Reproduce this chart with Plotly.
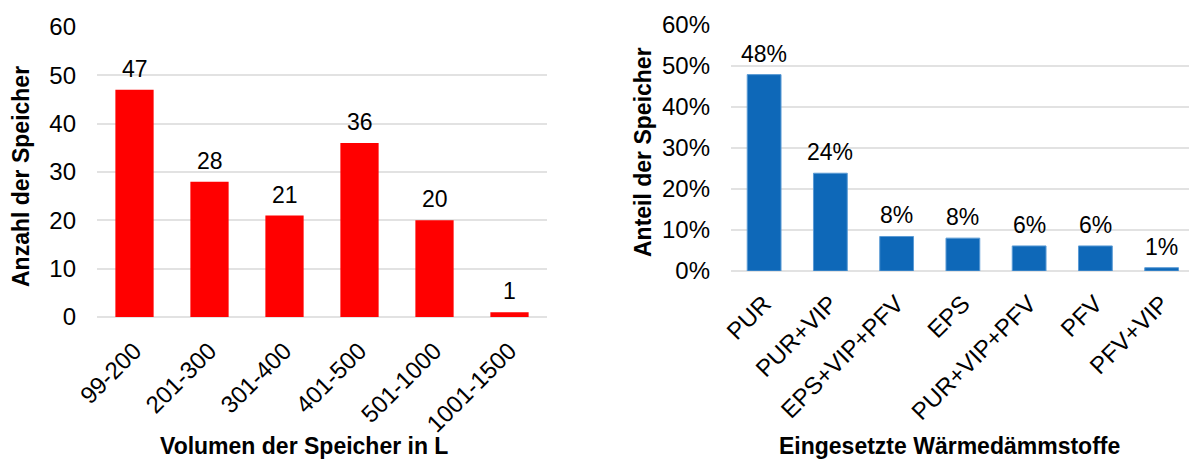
import plotly.graph_objects as go

# Storage volume classes and number of tanks per class
volume_classes = ["99-200", "201-300", "301-400", "401-500", "501-1000", "1001-1500"]
tank_counts = [47, 28, 21, 36, 20, 1]

# Insulation materials and share of tanks using them
insulation_types = ["PUR", "PUR+VIP", "EPS+VIP+PFV", "EPS", "PUR+VIP+PFV", "PFV", "PFV+VIP"]
insulation_shares = [0.478, 0.238, 0.084, 0.080, 0.061, 0.061, 0.008]

W, H = 1189, 459
FONT = "Liberation Sans, Arial, sans-serif"
RED = "#FF0000"
BLUE = "#0E68B8"
GRID = "#E2E2E2"


def px_x(x):
    return x / W


def px_y(y):
    return (H - y) / H


fig = go.Figure()

fig.add_trace(go.Bar(
    x=volume_classes, y=tank_counts, marker_color=RED,
    marker_line_width=0, xaxis="x", yaxis="y", showlegend=False,
))
fig.add_trace(go.Bar(
    x=insulation_types, y=insulation_shares, marker_color=BLUE,
    marker_line=dict(color="#5B9BD5", width=1), xaxis="x2", yaxis="y2",
    showlegend=False,
))

annotations = []
# value labels above the bars
for cat, val in zip(volume_classes, tank_counts):
    annotations.append(dict(
        x=cat, y=val, xref="x", yref="y", text=str(val), showarrow=False,
        yanchor="bottom", yshift=6, font=dict(size=23, color="#000000", family=FONT),
    ))
for cat, val in zip(insulation_types, insulation_shares):
    annotations.append(dict(
        x=cat, y=val, xref="x2", yref="y2", text=f"{val:.0%}", showarrow=False,
        yanchor="bottom", yshift=6, font=dict(size=23, color="#000000", family=FONT),
    ))

title_font = dict(size=23, color="#000000", family=FONT)
# axis titles
annotations += [
    dict(text="<b>Volumen der Speicher in L</b>", x=px_x(304), y=px_y(446),
         xref="paper", yref="paper", showarrow=False, xanchor="center",
         yanchor="middle", font=title_font),
    dict(text="<b>Anzahl der Speicher</b>", x=px_x(21), y=px_y(177),
         xref="paper", yref="paper", showarrow=False, textangle=-90,
         xanchor="center", yanchor="middle", font=title_font),
    dict(text="<b>Eingesetzte Wärmedämmstoffe</b>", x=px_x(949), y=px_y(446),
         xref="paper", yref="paper", showarrow=False, xanchor="center",
         yanchor="middle", font=title_font),
    dict(text="<b>Anteil der Speicher</b>", x=px_x(643), y=px_y(152),
         xref="paper", yref="paper", showarrow=False, textangle=-90,
         xanchor="center", yanchor="middle", font=title_font),
]

tick_font = dict(size=24, color="#000000", family=FONT)

fig.update_layout(
    width=W, height=H,
    margin=dict(l=0, r=0, t=0, b=0),
    paper_bgcolor="white", plot_bgcolor="white",
    font=dict(family=FONT, color="#000000"),
    bargap=0.49,
    annotations=annotations,
    xaxis=dict(
        domain=[px_x(97), px_x(547)], anchor="y", tickangle=-45,
        tickfont=tick_font, showgrid=False, showline=False, ticks="",
        ticklabelstandoff=14, automargin=False,
    ),
    yaxis=dict(
        domain=[px_y(317), px_y(27)], anchor="x", range=[0, 60], dtick=10,
        tickfont=tick_font, showgrid=True, gridcolor=GRID, gridwidth=1.5,
        zeroline=True, zerolinecolor=GRID, zerolinewidth=1.5,
        showline=False, ticks="", ticklabelstandoff=20, automargin=False,
    ),
    xaxis2=dict(
        domain=[px_x(731), 1.0], anchor="y2", tickangle=-45,
        range=[-0.5, 6.413], tickfont=tick_font, showgrid=False,
        showline=False, ticks="", ticklabelstandoff=13, automargin=False,
    ),
    yaxis2=dict(
        domain=[px_y(271), px_y(24.5)], anchor="x2", range=[0, 0.6],
        dtick=0.1, tickformat=".0%", tickfont=tick_font, showgrid=True,
        gridcolor=GRID, gridwidth=1.5, zeroline=True, zerolinecolor=GRID,
        zerolinewidth=1.5, showline=False, ticks="", ticklabelstandoff=20,
        automargin=False,
    ),
)

fig.write_html("out.html")
